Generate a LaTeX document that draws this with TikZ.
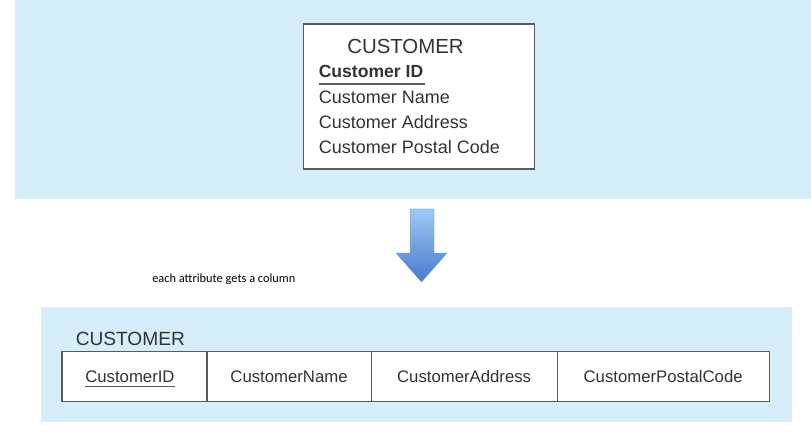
\documentclass[tikz,border=0pt]{standalone}
\usepackage{fontspec}
\setmainfont{Liberation Sans}
\newfontfamily\notefont{Carlito}
\usetikzlibrary{positioning}

\definecolor{bandblue}{RGB}{213,238,250}
\definecolor{inkgray}{RGB}{51,51,51}
\definecolor{framegray}{RGB}{90,90,90}
\definecolor{arrowtop}{RGB}{160,199,246}
\definecolor{arrowbot}{RGB}{70,124,206}

\begin{document}
\begin{tikzpicture}[x=0.025cm,y=-0.025cm,
	attr/.style={anchor=base west,inner sep=0pt,text=inkgray,font=\fontsize{12.8}{14}\selectfont},
	cell/.style={draw=framegray,line width=0.8pt,fill=white,outer sep=0pt,inner sep=0pt,
		minimum height=1.25cm,text=inkgray,font=\fontsize{11.9}{14}\selectfont}]
	\useasboundingbox (0,0) rectangle (811,440);
	% light blue panels
	\fill[bandblue] (15,0) rectangle (811,199);
	\fill[bandblue] (41,307) rectangle (792,422);
	% entity box
	\draw[framegray,line width=0.8pt,fill=white] (303.5,24) rectangle (534.5,169);
	\node[attr,anchor=base,font=\fontsize{14.5}{16}\selectfont] (etitle) at (405.5,54) {CUSTOMER};
	\node[attr,font=\bfseries\fontsize{12.5}{14}\selectfont] (eid) at (318.5,78) {Customer ID};
	\node[attr] (ename) at (318.5,104) {Customer Name};
	\node[attr] (eaddr) at (318.5,129) {Customer Address};
	\node[attr] (epost) at (318.5,154) {Customer Postal Code};
	\draw[framegray,line width=0.9pt] ([yshift=-4.3pt]eid.base west) -- ([xshift=1pt,yshift=-4.3pt]eid.base east);
	% big arrow
	\shade[top color=arrowtop,bottom color=arrowbot,draw=arrowbot!80,line width=0.3pt]
		(410,209) -- (434,209) -- (434,253) -- (447,253) -- (421.5,282)
		-- (396,253) -- (410,253) -- cycle;
	\node[anchor=base west,inner sep=0pt,font=\notefont\fontsize{8.8}{10}\selectfont] (note) at (152,282) {each attribute gets a column};
	% relation table
	\node[attr,font=\fontsize{13.6}{16}\selectfont] (rtitle) at (75.5,345) {CUSTOMER};
	\node[cell,anchor=west,minimum width=3.625cm] (cid) at (62,376.5) {CustomerID\kern6.5pt};
	\node[cell,right=0pt of cid,minimum width=4.1cm] (cname) {CustomerName};
	\node[cell,right=0pt of cname,minimum width=4.65cm] (caddr) {CustomerAddress};
	\node[cell,right=0pt of caddr,minimum width=5.3cm] (cpost) {CustomerPostalCode};
	\draw[framegray,line width=0.9pt] (85,386.5) -- (175,386.5);
\end{tikzpicture}
\end{document}
